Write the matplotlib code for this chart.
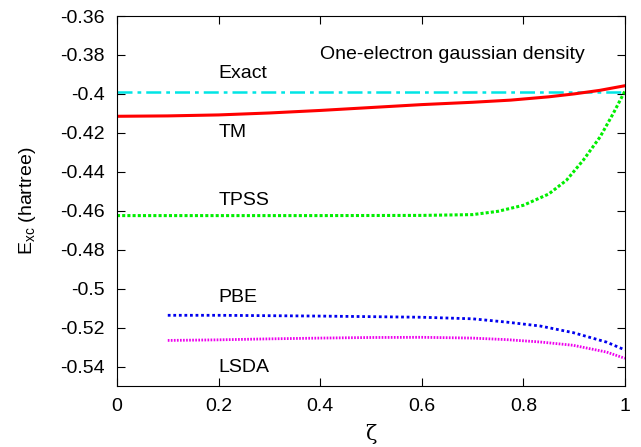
import matplotlib
matplotlib.use("Agg")
import matplotlib.pyplot as plt

plt.rcParams["font.family"] = ["Liberation Sans", "DejaVu Sans"]
plt.rcParams["mathtext.fontset"] = "custom"
plt.rcParams["mathtext.rm"] = "Liberation Sans"
plt.rcParams["mathtext.it"] = "Liberation Sans:italic"

zeta_full = [0.0, 0.1, 0.2, 0.3, 0.4, 0.5, 0.6, 0.7, 0.775, 0.85, 0.9, 0.95, 1.0]
exact = [-0.399] * len(zeta_full)
tm = [-0.4115, -0.4113, -0.4108, -0.4098, -0.4085, -0.4070, -0.4055, -0.4043, -0.4032, -0.4015, -0.4000, -0.3982, -0.3958]

zeta_tpss = [0.0, 0.2, 0.4, 0.6, 0.7, 0.75, 0.8, 0.85, 0.885, 0.918, 0.951, 0.977, 1.0]
tpss = [-0.4625, -0.4625, -0.4625, -0.4624, -0.4620, -0.4603, -0.4572, -0.4514, -0.4443, -0.4340, -0.4221, -0.4100, -0.3985]

zeta_gga = [0.1, 0.2, 0.3, 0.4, 0.5, 0.6, 0.7, 0.767, 0.833, 0.898, 0.964, 1.0]
pbe = [-0.5137, -0.5137, -0.5139, -0.5141, -0.5144, -0.5147, -0.5155, -0.5172, -0.5192, -0.5226, -0.5275, -0.5315]
lsda = [-0.5266, -0.5263, -0.5258, -0.5254, -0.5251, -0.5250, -0.5254, -0.5262, -0.5274, -0.5291, -0.5326, -0.5358]

labels = ["Exact", "TM", "TPSS", "PBE", "LSDA"]
label_y = [-0.3893, -0.4196, -0.4546, -0.5045, -0.5405]

fig = plt.figure(figsize=(6.41, 4.47), dpi=100)
ax = fig.add_axes([0.1825, 0.1365, 0.7925, 0.8277])

ax.plot(zeta_full, exact, color="#00e5e5", linestyle=(0, (6, 2, 1.5, 2)), linewidth=1.8)
ax.plot(zeta_full, tm, color="#ff0000", linewidth=2.2)
ax.plot(zeta_tpss, tpss, color="#00ee00", linestyle=(0, (1, 0.7)), linewidth=2.2)
ax.plot(zeta_gga, pbe, color="#0000ee", linestyle=(0, (1, 1)), linewidth=2.0)
ax.plot(zeta_gga, lsda, color="#ee00ee", linestyle=(0, (0.6, 0.5)), linewidth=2.0)

for lab, y in zip(labels, label_y):
    ax.text(0.2, y, lab, fontsize=14, va="center", ha="left")
ax.text(0.4, -0.38, "One-electron gaussian density", fontsize=14, va="center", ha="left")

ax.set_xlim(0, 1)
ax.set_ylim(-0.55, -0.36)
ax.set_xticks([0, 0.2, 0.4, 0.6, 0.8, 1])
ax.set_xticklabels(["0", "0.2", "0.4", "0.6", "0.8", "1"])
ax.set_yticks([-0.54, -0.52, -0.5, -0.48, -0.46, -0.44, -0.42, -0.4, -0.38, -0.36])
ax.set_yticklabels(["-0.54", "-0.52", "-0.5", "-0.48", "-0.46", "-0.44", "-0.42", "-0.4", "-0.38", "-0.36"])
ax.tick_params(direction="in", top=True, right=True, length=6, labelsize=14, pad=9)
ax.set_xlabel("ζ", fontsize=15, family=["DejaVu Serif"], labelpad=6)
ax.set_ylabel(r"$\mathregular{E_{xc}}$ (hartree)", fontsize=14, labelpad=16)

fig.savefig("out.png", dpi=100)
